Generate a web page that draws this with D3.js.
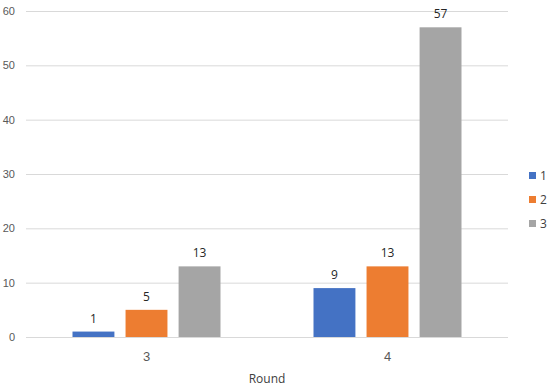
<!DOCTYPE html>
<html>
<head>
<meta charset="utf-8">
<script src="https://cdn.jsdelivr.net/npm/d3@7"></script>
<style>
  body { margin: 0; background: #fff; }
  svg { display: block; font-family: "Open Sans", sans-serif; }
</style>
</head>
<body>
<svg id="chart" width="550" height="388"></svg>
<script>
var rounds = ['3', '4'];
var seriesNames = ['1', '2', '3'];
var seriesColors = ['#4472C4', '#ED7D31', '#A5A5A5'];
var values = {
  '1': [1, 9],
  '2': [5, 13],
  '3': [13, 57]
};
var yTicks = [0, 10, 20, 30, 40, 50, 60];

const plotLeft = 26;
const plotRight = 508;
const plotTop = 11;
const plotBottom = 337;
const groupW = 148;

var svg = d3.select('#chart');

var x = d3.scaleBand().domain(rounds).range([plotLeft, plotRight]);
var y = d3.scaleLinear().domain([0, 60]).range([plotBottom, plotTop]);
var inner = d3.scaleBand().domain(seriesNames).range([0, groupW]).paddingInner(0.21);

// gridlines + y labels
var yAxis = d3.axisLeft(y).tickValues(yTicks).tickSize(-(plotRight - plotLeft)).tickPadding(11);
var yg = svg.append('g')
  .attr('transform', `translate(${plotLeft},0)`)
  .call(yAxis);
yg.select('.domain').remove();
yg.selectAll('.tick line').attr('stroke', '#d9d9d9');
yg.selectAll('.tick text').attr('fill', '#595959').style('font-size', '11px');

// x labels
var xAxis = d3.axisBottom(x).tickSize(0).tickPadding(15);
var xg = svg.append('g')
  .attr('transform', `translate(0,${plotBottom})`)
  .call(xAxis);
xg.select('.domain').remove();
xg.selectAll('.tick text').attr('fill', '#595959').style('font-size', '13px');

svg.append('text')
  .attr('x', (plotLeft + plotRight) / 2)
  .attr('y', 383)
  .attr('text-anchor', 'middle')
  .attr('fill', '#404040')
  .style('font-size', '12px')
  .text('Round');

// bars
var barData = [];
rounds.forEach(function(r, i) {
  seriesNames.forEach(function(s, j) {
    barData.push({ round: r, series: s, value: values[s][i], color: seriesColors[j] });
  });
});

function barX(d) {
  return x(d.round) + x.bandwidth() / 2 - groupW / 2 + inner(d.series);
}

svg.append('g').selectAll('rect')
  .data(barData)
  .enter()
  .append('rect')
  .attr('x', barX)
  .attr('y', function(d) { return y(d.value); })
  .attr('width', inner.bandwidth())
  .attr('height', function(d) { return y(0) - y(d.value); })
  .attr('fill', function(d) { return d.color; });

svg.append('g').selectAll('text')
  .data(barData)
  .enter()
  .append('text')
  .attr('x', function(d) { return barX(d) + inner.bandwidth() / 2; })
  .attr('y', function(d) { return y(d.value) - 9; })
  .attr('text-anchor', 'middle')
  .attr('fill', '#262626')
  .style('font-size', '12px')
  .text(function(d) { return d.value; });

// legend
var legend = svg.append('g').selectAll('g')
  .data(seriesNames)
  .enter()
  .append('g')
  .attr('transform', function(d, i) { return `translate(529,${172 + i * 24})`; });
legend.append('rect')
  .attr('width', 7)
  .attr('height', 7)
  .attr('fill', function(d, i) { return seriesColors[i]; });
legend.append('text')
  .attr('x', 11)
  .attr('y', 8)
  .attr('fill', '#404040')
  .style('font-size', '12px')
  .text(function(d) { return d; });
</script>
</body>
</html>
